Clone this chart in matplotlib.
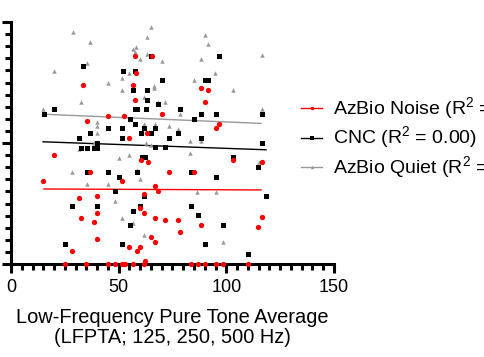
import matplotlib
matplotlib.use('Agg')
import matplotlib.pyplot as plt
from matplotlib.lines import Line2D
from matplotlib.ticker import MultipleLocator

plt.rcParams['font.family'] = ['Liberation Sans', 'DejaVu Sans']
plt.rcParams['mathtext.fontset'] = 'custom'
plt.rcParams['mathtext.rm'] = 'Liberation Sans'

# AzBio in noise (red)
noise_x = [33.6, 45.2, 52.5, 35.2, 57.7, 65.5, 58.1, 56.8, 88.4, 91.6, 57.6, 90.1, 70.1, 96.8, 95.1,
           54.9, 63.3, 20.1, 36.8, 15.0, 51.7, 40.1, 31.7, 40.1, 32.7, 38.4, 40.1, 28.5,
           25.2, 35.0, 45.2, 48.4, 51.7, 52.9, 60.2, 63.5, 73.4, 85.0, 66.7, 68.4, 61.8, 60.1,
           61.8, 66.7, 71.7, 77.6, 88.4, 78.5, 65.2, 66.7, 54.9, 60.1, 58.4, 62.4,
           51.9, 56.8, 61.8, 83.5, 86.7, 90.1, 95.1, 98.3, 103.3, 116.7, 116.7, 114.9, 110.0]
noise_y = [73.8, 61.0, 61.0, 59.0, 85.8, 85.8, 78.8, 73.8, 72.9, 71.9, 67.9, 66.9, 62.0, 58.0, 56.1,
           51.9, 54.0, 45.0, 38.0, 34.2, 34.2, 28.1, 27.1, 21.2, 19.1, 17.2, 10.2, 5.2,
           0, 0, 0, 0, 0, 0, 43.1, 42.0, 38.0, 38.0, 32.1, 30.0, 29.1, 23.1,
           21.2, 19.1, 18.2, 18.2, 16.0, 13.2, 11.0, 9.2, 7.2, 7.2, 5.2, 1.2,
           0, 0, 0, 0, 0, 0, 0, 0, 43.0, 42.0, 19.3, 15.2, 0]

# CNC (black)
cnc_x = [33.4, 52.2, 20.1, 15.2, 44.9, 51.7, 36.7, 31.7, 51.7, 40.1,
         65.0, 96.6, 57.5, 70.1, 90.0, 91.6, 56.5, 63.3, 63.3, 68.4, 57.5, 58.4, 62.7, 78.5,
         88.2, 95.2, 55.3, 85.0, 57.5, 61.8, 66.9, 60.2, 65.0, 77.6, 73.5, 88.2,
         116.7, 116.7, 32.4, 35.3, 38.6, 39.8, 35.3, 44.9, 50.0, 48.4, 28.3, 40.1, 25.1, 51.7,
         66.9, 71.7, 61.0, 62.3, 103.3, 58.5, 83.5, 95.2, 61.8, 60.1, 56.5, 83.5, 86.7,
         55.3, 98.3, 90.1, 114.9, 118.4, 110.1]
cnc_y = [82.0, 79.8, 63.9, 62.0, 56.1, 56.1, 54.0, 52.1, 52.1, 50.1,
         86.0, 86.0, 79.9, 75.9, 75.9, 75.9, 71.9, 71.9, 67.8, 66.0, 63.9, 63.9, 63.9, 63.9,
         62.0, 62.0, 60.0, 60.0, 57.9, 56.1, 56.1, 54.0, 54.0, 54.0, 52.1, 52.1,
         62.0, 50.1, 48.1, 48.1, 48.1, 48.1, 38.0, 38.0, 36.0, 30.3, 24.1, 24.1, 8.3, 8.3,
         48.2, 48.2, 44.1, 44.1, 44.1, 38.0, 38.0, 36.0, 28.2, 24.1, 22.1, 24.1, 20.1,
         16.1, 16.1, 8.3, 40.2, 28.1, 4.1]

# AzBio in quiet (gray)
quiet_x = [28.9, 36.8, 35.2, 20.1, 44.9, 51.7, 51.7, 32.7, 15.0, 40.1, 40.1, 40.1, 38.4,
           65.0, 63.3, 90.1, 91.6, 58.1, 56.8, 57.6, 63.3, 60.1, 70.1, 88.4, 54.9, 94.9, 85.0,
           66.6, 66.6, 103.3, 61.8, 71.7, 68.4, 78.5, 61.8, 66.7, 73.5, 77.6, 83.3, 88.2, 62.7,
           116.7, 116.7, 31.4, 50.0, 28.5, 35.2, 44.9, 48.4, 51.7,
           65.0, 55.0, 83.3, 58.5, 60.1, 86.5, 95.1, 56.8, 61.8, 98.3, 115.0]
quiet_y = [95.7, 91.9, 82.9, 79.8, 74.7, 77.0, 71.9, 66.8, 63.9, 58.8, 57.0, 54.0, 49.9,
           97.8, 93.8, 94.6, 90.8, 89.5, 88.7, 87.5, 86.8, 84.8, 83.9, 84.8, 78.8, 78.8, 75.9,
           73.6, 72.9, 71.8, 69.0, 66.9, 67.1, 61.9, 57.7, 57.7, 56.9, 55.8, 50.8, 50.8, 49.9,
           86.5, 63.9, 47.6, 43.9, 38.0, 32.9, 32.9, 26.0, 18.9,
           49.0, 44.9, 46.0, 38.8, 35.1, 29.9, 29.9, 16.9, 11.9, 9.0, 42.0]

# fitted lines (end points)
noise_fit_x = [15.3, 116.1]
noise_fit_y = [31.0, 30.6]
cnc_fit_x = [14.9, 118.4]
cnc_fit_y = [50.5, 47.2]
quiet_fit_x = [14.9, 116.1]
quiet_fit_y = [61.9, 58.1]

labels = ['AzBio Noise (R$^{2}$ = 0.00)', 'CNC (R$^{2}$ = 0.00)', 'AzBio Quiet (R$^{2}$ = 0.00)']

red = '#ff0000'
gray = '#999999'

fig = plt.figure(figsize=(4.85, 3.57), dpi=100)
ax = fig.add_axes([11 / 485, 93 / 357, 323 / 485, 242 / 357])

ax.plot(quiet_fit_x, quiet_fit_y, color=gray, lw=1)
ax.plot(cnc_fit_x, cnc_fit_y, color='black', lw=1)
ax.plot(noise_fit_x, noise_fit_y, color=red, lw=1)

ax.plot(quiet_x, quiet_y, '^', color=gray, ms=3.2, mew=0, clip_on=False, zorder=3)
ax.plot(cnc_x, cnc_y, 's', color='black', ms=3.6, mew=0, clip_on=False, zorder=4)
ax.plot(noise_x, noise_y, 'o', color=red, ms=3.8, mew=0, clip_on=False, zorder=5)

ax.set_xlim(0, 150)
ax.set_ylim(0, 100)
ax.spines['top'].set_visible(False)
ax.spines['right'].set_visible(False)
ax.spines['left'].set_linewidth(2.2)
ax.spines['bottom'].set_linewidth(2.2)
ax.xaxis.set_major_locator(MultipleLocator(50))
ax.xaxis.set_minor_locator(MultipleLocator(5))
ax.yaxis.set_major_locator(MultipleLocator(50))
ax.yaxis.set_minor_locator(MultipleLocator(5))
ax.tick_params(which='major', length=6.5, width=2.2, labelsize=13, pad=4)
ax.tick_params(which='minor', length=4, width=2.2)
ax.tick_params(axis='y', labelleft=False)

ax.set_xlabel('Low-Frequency Pure Tone Average\n(LFPTA; 125, 250, 500 Hz)', fontsize=14.4,
              labelpad=9, linespacing=1.05)

handles = [Line2D([], [], color=red, lw=1, marker='o', ms=2.5, mew=0),
           Line2D([], [], color='black', lw=1, marker='s', ms=2.5, mew=0),
           Line2D([], [], color=gray, lw=1, marker='^', ms=2.5, mew=0)]
fig.legend(handles, labels, loc='center left', bbox_to_anchor=(301 / 485, 1 - 138 / 357),
           frameon=False, fontsize=14, borderpad=0, handlelength=1.1, handletextpad=0.55,
           labelspacing=0.14, borderaxespad=0)

fig.savefig('out.png', dpi=100)
